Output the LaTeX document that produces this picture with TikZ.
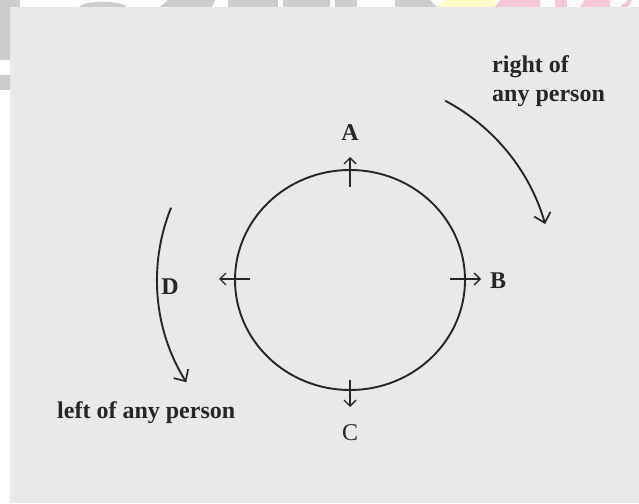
\documentclass[tikz,border=0pt]{standalone}
\usepackage{fontspec}
\setmainfont{Liberation Serif}
\usetikzlibrary{arrows.meta}
\definecolor{panel}{HTML}{E9E9E9}
\definecolor{wmgray}{HTML}{CCCCCC}
\definecolor{wmyellow}{HTML}{FFFAC8}
\definecolor{wmpink}{HTML}{F8C6D6}
\definecolor{ink}{HTML}{262626}
\begin{document}
\begin{tikzpicture}[x=1pt,y=1pt,
  lbl/.style={inner sep=0pt, text=ink, font=\fontsize{24}{29}\selectfont\bfseries},
  lblreg/.style={inner sep=0pt, text=ink, font=\fontsize{24}{29}\selectfont},
  pin/.style={draw=ink, line width=1.6pt, -{Straight Barb[length=6pt,width=12pt,line width=1.4pt]}},
  turn/.style={draw=ink, line width=1.9pt, -{Straight Barb[length=9pt,width=17pt,line width=1.7pt]}}]
% canvas and watermark remnants
\fill[white] (0,0) rectangle (639,503);
\fill[wmgray] (0,443) rectangle (10,503);
\fill[wmgray] (0,413) rectangle (10,428);
\fill[wmgray] (0,496) rectangle (20,503);
\fill[wmgray] (79,496) .. controls (85,503) and (120,503) .. (127,496) -- cycle;
\fill[wmgray] (160,496) -- (168,503) -- (215,503) -- (212,496) -- cycle;
\fill[wmgray] (228,496) rectangle (278,503);
\fill[wmgray] (283,496) rectangle (330,503);
\fill[wmgray] (335,496) rectangle (357,503);
\fill[wmgray] (395,496) -- (395,503) -- (430,503) -- (437,496) -- cycle;
\fill[wmyellow] (437,496) -- (445,503) -- (495,503) -- (495,496) -- cycle;
\fill[wmpink] (495,496) -- (500,503) -- (540,503) -- (540,496) -- cycle;
\fill[wmpink] (555,496) rectangle (567,503);
\fill[wmpink] (580,496) -- (585,503) -- (610,503) -- (610,496) -- cycle;
\fill[wmpink] (620,496) -- (628,503) -- (632,503) -- (628,496) -- cycle;
\fill[panel] (10,0) rectangle (639,496);
\useasboundingbox (0,0) rectangle (639,503);

% circle
\coordinate (c) at (350,223);
\draw[ink, line width=1.9pt] (c) ellipse [x radius=115, y radius=110];

% tangential arrows at the four positions
\coordinate (a0) at (350,316);
\coordinate (a1) at (350,346);
\coordinate (b0) at (450,224);
\coordinate (b1) at (481,224);
\coordinate (c0) at (350,123);
\coordinate (c1) at (350,96);
\coordinate (d0) at (250,224);
\coordinate (d1) at (219,224);
\draw[pin] (a0) -- (a1);
\draw[pin] (b0) -- (b1);
\draw[pin] (c0) -- (c1);
\draw[pin] (d0) -- (d1);

% letters
\node[lbl] (A) at (350,370) {A};
\node[lbl] (B) at (498,222) {B};
\node[lblreg] (C) at (350,70) {C};
\node[lbl] (D) at (170,216) {D};

% direction arcs
\draw[turn] ([shift={(62:203)}]c) arc [start angle=62, end angle=16, radius=203];
\draw[turn] ([shift={(158:193)}]c) arc [start angle=158, end angle=212, radius=193];

% phrases
\node[lbl, anchor=west, align=left] (right) at (492,422) {right of\\any person};
\node[lbl, anchor=west] (left) at (57,90) {left of any person};
\end{tikzpicture}
\end{document}
